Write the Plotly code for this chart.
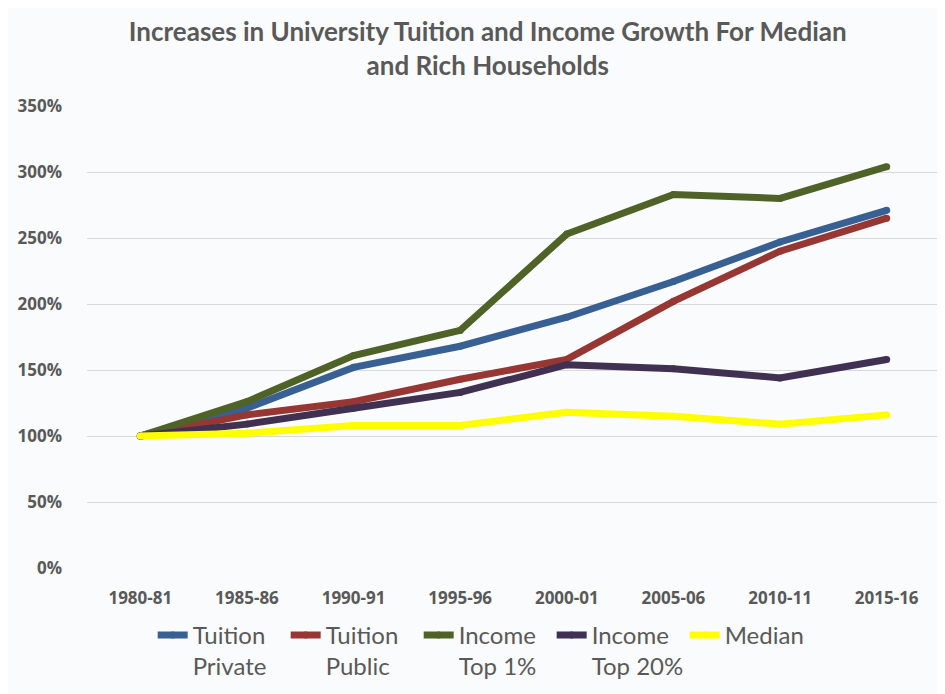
import plotly.graph_objects as go

years = ['1980-81', '1985-86', '1990-91', '1995-96', '2000-01', '2005-06', '2010-11', '2015-16']

tuition_private = [100, 121, 152, 168, 190, 217, 247, 271]
tuition_public  = [100, 116, 126, 143, 158, 202, 240, 265]
income_top1     = [100, 126, 161, 180, 253, 283, 280, 304]
income_top20    = [100, 109, 121, 133, 154, 151, 144, 158]
median_income   = [100, 102, 108, 108, 118, 115, 109, 116]

y_ticks = [0, 50, 100, 150, 200, 250, 300, 350]

series = [('Tuition<br>Private', tuition_private, 'rgb(56,96,146)'),
          ('Tuition<br>Public',  tuition_public,  'rgb(150,55,52)'),
          ('Income<br>Top 1%',   income_top1,     'rgb(79,98,40)'),
          ('Income<br>Top 20%',  income_top20,    'rgb(64,49,82)'),
          ('Median',             median_income,   'rgb(255,255,0)')]

fig = go.Figure()
for name, vals, color in series:
    # round markers at vertices mimic the rounded joins/caps of the original
    fig.add_trace(go.Scatter(x      = years,
                             y      = vals,
                             mode   = 'lines+markers',
                             name   = name,
                             line   = dict(color = color, width = 7),
                             marker = dict(color = color, size = 7, line = dict(width = 0))))

# page body has an 8px margin, so the figure is sized to fit the window after it
fig.update_layout(width         = 937,
                  height        = 686,
                  paper_bgcolor = '#fafbfd',
                  plot_bgcolor  = '#fafbfd',
                  margin        = dict(l = 79, r = 5, t = 98, b = 121),
                  title         = dict(text    = 'Increases in University Tuition and Income Growth For Median<br>and Rich Households',
                                       x       = 0.512,
                                       xanchor = 'center',
                                       y       = 0.952,
                                       yanchor = 'top',
                                       font    = dict(family = 'Lato', size = 26, color = '#595959', weight = 'bold')),
                  showlegend    = True,
                  legend        = dict(orientation = 'h',
                                       x           = 0.077,
                                       xanchor     = 'left',
                                       y           = -0.097,
                                       yanchor     = 'top',
                                       font        = dict(family = 'Lato', size = 24, color = '#595959'),
                                       itemwidth   = 30,
                                       entrywidth  = 88,
                                       valign      = 'top',
                                       bgcolor     = 'rgba(0,0,0,0)'))

fig.update_xaxes(type              = 'category',
                 range             = [-0.5, 7.5],
                 showgrid          = False,
                 showline          = False,
                 ticks             = '',
                 automargin        = False,
                 ticklabelstandoff = 18,
                 tickfont          = dict(family = 'Open Sans', size = 17, color = '#595959', weight = 'bold'))

fig.update_yaxes(range             = [0, 350],
                 tickvals          = y_ticks,
                 ticktext          = [f'{v}%' for v in y_ticks],
                 gridcolor         = '#d9d9d9',
                 gridwidth         = 1,
                 zeroline          = False,
                 showline          = False,
                 ticks             = '',
                 automargin        = False,
                 ticklabelstandoff = 24,
                 tickfont          = dict(family = 'Open Sans', size = 17, color = '#595959', weight = 'bold'))

fig.write_html("out.html")
